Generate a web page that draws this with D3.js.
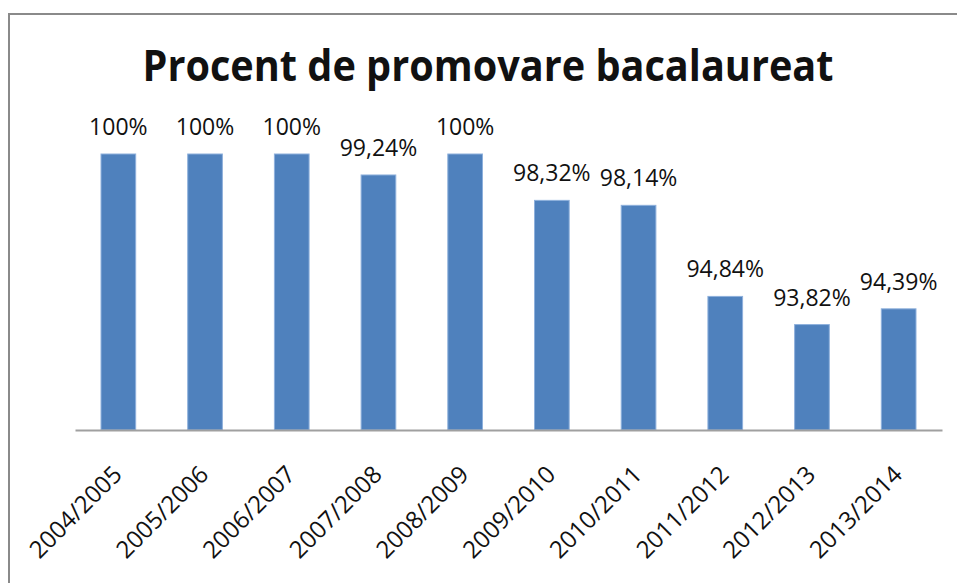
<!DOCTYPE html>
<html>
<head>
<meta charset="utf-8">
<script src="https://cdn.jsdelivr.net/npm/d3@7"></script>
<style>
  body { margin: 0; background: #fff; }
  text { font-family: "Open Sans", "Noto Sans", sans-serif; fill: #111; }
</style>
</head>
<body>
<script>
var width = 957,
    height = 583;

// data
var years = ["2004/2005", "2005/2006", "2006/2007", "2007/2008", "2008/2009",
             "2009/2010", "2010/2011", "2011/2012", "2012/2013", "2013/2014"];
var promovare = [100, 100, 100, 99.24, 100, 98.32, 98.14, 94.84, 93.82, 94.39];
var labels = ["100%", "100%", "100%", "99,24%", "100%", "98,32%", "98,14%", "94,84%", "93,82%", "94,39%"];
var titlu = "Procent de promovare bacalaureat";

var svg = d3.select('body')
    .append('svg')
    .attr('width', width)
    .attr('height', height);

// chart frame (runs off the right and bottom edge)
svg.append("rect")
    .attr("x", 9)
    .attr("y", 14)
    .attr("width", 1000)
    .attr("height", 700)
    .attr("fill", "#fff")
    .attr("stroke", "#8a8a8a")
    .attr("stroke-width", 2);

var x = d3.scaleBand()
    .domain(years)
    .range([75, 942])
    .paddingInner(0.6)
    .paddingOuter(0.3);

var y = d3.scaleLinear()
    .domain([90, 100])
    .range([430, 154]);

svg.append("text")
    .attr("x", 488)
    .attr("y", 81)
    .attr("text-anchor", "middle")
    .style("font-size", "43px")
    .style("font-weight", "bold")
    .attr("textLength", 691)
    .attr("lengthAdjust", "spacingAndGlyphs")
    .text(titlu);

var data = years.map(function(d, i) { return {an: d, v: promovare[i], lbl: labels[i]}; });

svg.append("g")
    .selectAll("rect")
    .data(data)
    .enter().append("rect")
      .attr("x", function(d) { return x(d.an); })
      .attr("y", function(d) { return y(d.v); })
      .attr("width", x.bandwidth())
      .attr("height", function(d) { return y(90) - y(d.v); })
      .attr("fill", "#4f81bd")
      .attr("stroke", "#8eb0dc")
      .attr("stroke-width", 1);

svg.append("g")
    .selectAll("text")
    .data(data)
    .enter().append("text")
      .attr("x", function(d) { return x(d.an) + x.bandwidth() / 2; })
      .attr("y", function(d) { return y(d.v) - 19; })
      .attr("text-anchor", "middle")
      .style("font-size", "23px")
      .text(function(d) { return d.lbl; });

// x axis
var xAxis = d3.axisBottom(x).tickSize(0).tickPadding(0);
var ax = svg.append("g")
    .attr("transform", "translate(0," + y(90) + ")")
    .call(xAxis);
ax.select(".domain").attr("stroke", "#a0a0a0").attr("stroke-width", 2);
ax.selectAll(".tick text")
    .style("font-size", "24px")
    .style("font-family", "'Open Sans', sans-serif")
    .attr("fill", "#111")
    .attr("text-anchor", "end")
    .attr("dy", 0)
    .attr("transform", "translate(5,46) rotate(-45)");
</script>
</body>
</html>
